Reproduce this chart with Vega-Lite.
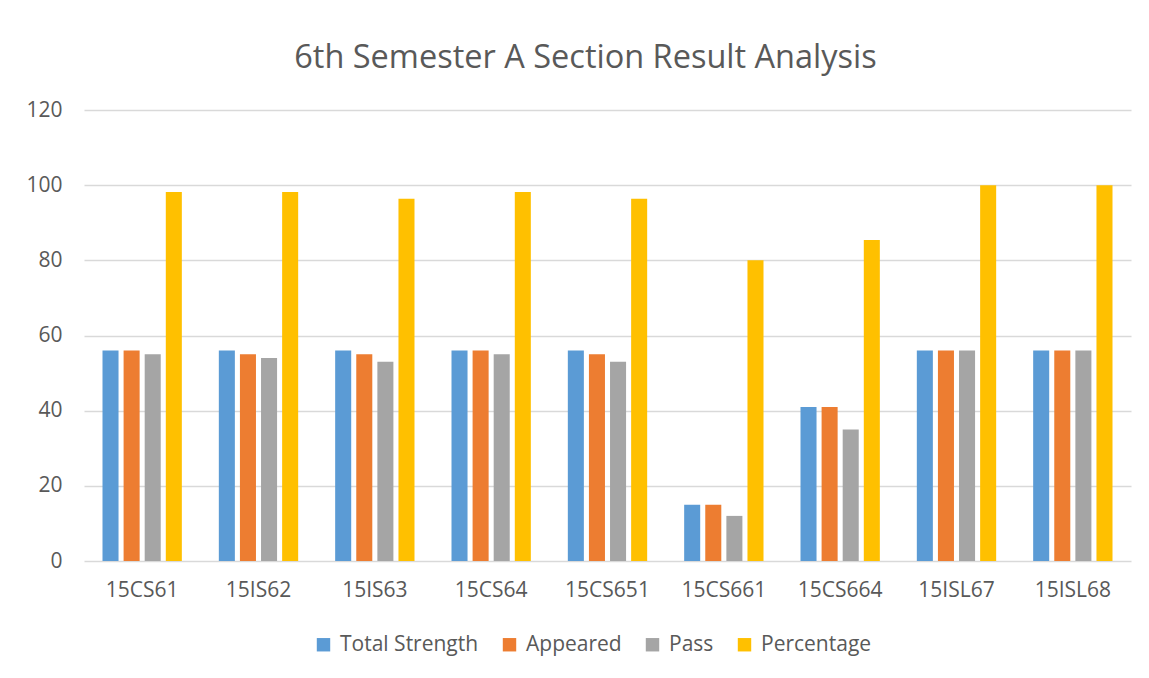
{
  "$schema": "https://vega.github.io/schema/vega-lite/v6.json",
  "width": 1047,
  "height": 451,
  "autosize": {"type": "none"},
  "padding": {"left": 84, "top": 110, "right": 18, "bottom": 117},
  "background": "white",
  "title": {"text": "6th Semester A Section Result Analysis", "font": "Open Sans", "fontSize": 32.5, "fontWeight": "normal", "color": "#595959", "anchor": "middle", "dx": -22, "offset": 25},
  "data": {"values": [
    {"subject": "15CS61", "series": "Total Strength", "value": 56},
    {"subject": "15CS61", "series": "Appeared", "value": 56},
    {"subject": "15CS61", "series": "Pass", "value": 55},
    {"subject": "15CS61", "series": "Percentage", "value": 98.2},
    {"subject": "15IS62", "series": "Total Strength", "value": 56},
    {"subject": "15IS62", "series": "Appeared", "value": 55},
    {"subject": "15IS62", "series": "Pass", "value": 54},
    {"subject": "15IS62", "series": "Percentage", "value": 98.2},
    {"subject": "15IS63", "series": "Total Strength", "value": 56},
    {"subject": "15IS63", "series": "Appeared", "value": 55},
    {"subject": "15IS63", "series": "Pass", "value": 53},
    {"subject": "15IS63", "series": "Percentage", "value": 96.4},
    {"subject": "15CS64", "series": "Total Strength", "value": 56},
    {"subject": "15CS64", "series": "Appeared", "value": 56},
    {"subject": "15CS64", "series": "Pass", "value": 55},
    {"subject": "15CS64", "series": "Percentage", "value": 98.2},
    {"subject": "15CS651", "series": "Total Strength", "value": 56},
    {"subject": "15CS651", "series": "Appeared", "value": 55},
    {"subject": "15CS651", "series": "Pass", "value": 53},
    {"subject": "15CS651", "series": "Percentage", "value": 96.4},
    {"subject": "15CS661", "series": "Total Strength", "value": 15},
    {"subject": "15CS661", "series": "Appeared", "value": 15},
    {"subject": "15CS661", "series": "Pass", "value": 12},
    {"subject": "15CS661", "series": "Percentage", "value": 80},
    {"subject": "15CS664", "series": "Total Strength", "value": 41},
    {"subject": "15CS664", "series": "Appeared", "value": 41},
    {"subject": "15CS664", "series": "Pass", "value": 35},
    {"subject": "15CS664", "series": "Percentage", "value": 85.4},
    {"subject": "15ISL67", "series": "Total Strength", "value": 56},
    {"subject": "15ISL67", "series": "Appeared", "value": 56},
    {"subject": "15ISL67", "series": "Pass", "value": 56},
    {"subject": "15ISL67", "series": "Percentage", "value": 100},
    {"subject": "15ISL68", "series": "Total Strength", "value": 56},
    {"subject": "15ISL68", "series": "Appeared", "value": 56},
    {"subject": "15ISL68", "series": "Pass", "value": 56},
    {"subject": "15ISL68", "series": "Percentage", "value": 100}
  ]},
  "mark": {"type": "bar"},
  "encoding": {
    "x": {
      "field": "subject", "type": "nominal", "sort": null,
      "scale": {"paddingInner": 0.318, "paddingOuter": 0.159},
      "axis": {"title": null, "labelAngle": 0, "domain": false, "ticks": false, "labelPadding": 18, "labelFont": "Open Sans", "labelFontSize": 21, "labelColor": "#595959"}
    },
    "xOffset": {
      "field": "series", "type": "nominal",
      "sort": ["Total Strength", "Appeared", "Pass", "Percentage"],
      "scale": {"paddingInner": 0.24, "paddingOuter": 0}
    },
    "y": {
      "field": "value", "type": "quantitative",
      "scale": {"domain": [0, 120], "nice": false},
      "axis": {"title": null, "values": [0, 20, 40, 60, 80, 100, 120], "domain": false, "ticks": false, "grid": true, "gridColor": "#D9D9D9", "gridWidth": 1.3, "labelPadding": 22, "labelFont": "Open Sans", "labelFontSize": 21, "labelColor": "#595959"}
    },
    "color": {
      "field": "series", "type": "nominal",
      "sort": ["Total Strength", "Appeared", "Pass", "Percentage"],
      "scale": {"domain": ["Total Strength", "Appeared", "Pass", "Percentage"], "range": ["#5B9BD5", "#ED7D31", "#A5A5A5", "#FFC000"]},
      "legend": {"title": null, "orient": "none", "legendX": 229, "legendY": 524, "direction": "horizontal", "symbolType": "square", "symbolSize": 180, "symbolStrokeWidth": 0, "symbolOpacity": 1, "labelFont": "Open Sans", "labelFontSize": 21, "labelColor": "#595959", "labelOffset": 6, "columnPadding": 20}
    }
  },
  "config": {"view": {"stroke": null}}
}
